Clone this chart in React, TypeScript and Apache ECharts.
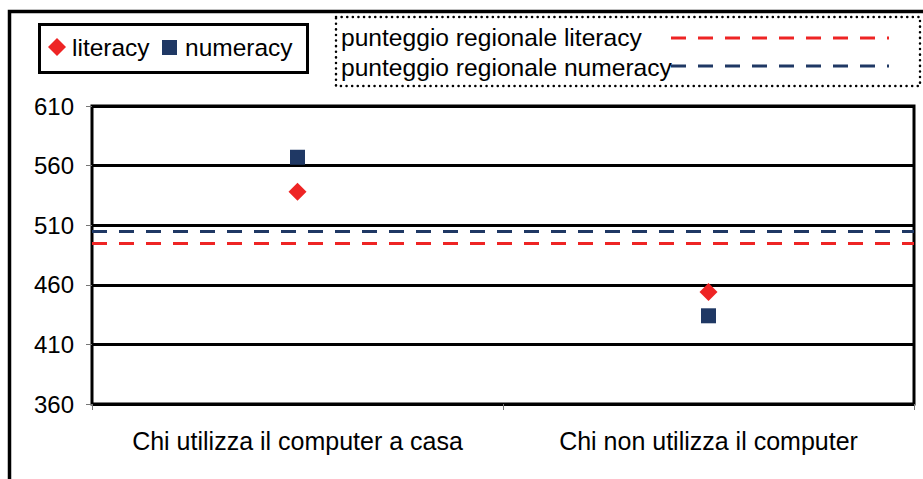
import React, { useEffect, useRef } from "react";
import * as echarts from "echarts";

const categories = ["Chi utilizza il computer a casa", "Chi non utilizza il computer"];
const literacy = [538, 454];
const numeracy = [567, 434];
const regionalLiteracy = 495;
const regionalNumeracy = 505;
const yTicks = [360, 410, 460, 510, 560, 610];

const RED = "#ee2424";
const NAVY = "#1f3864";
const FONT = "Liberation Sans";

export default function App() {
  const ref = useRef<HTMLDivElement>(null);
  useEffect(() => {
    document.body.style.margin = "0";
    const chart = echarts.init(ref.current!, null, { renderer: "svg" });
    const option = {
      animation: false,
      backgroundColor: "#ffffff",
      textStyle: { fontFamily: FONT },
      grid: {
        left: 92,
        top: 106,
        right: 9,
        bottom: 75,
        show: true,
        borderColor: "#000",
        borderWidth: 3,
        containLabel: false,
      },
      xAxis: {
        type: "category",
        data: categories,
        boundaryGap: true,
        axisLine: { show: false },
        axisTick: { show: true, length: 6, lineStyle: { color: "#777", width: 1 } },
        axisLabel: { color: "#000", fontSize: 25, fontFamily: FONT, margin: 24, interval: 0 },
        splitLine: { show: false },
      },
      yAxis: {
        type: "value",
        min: yTicks[0],
        max: yTicks[yTicks.length - 1],
        interval: yTicks[1] - yTicks[0],
        axisLine: { show: false },
        axisTick: { show: true, length: 6, lineStyle: { color: "#777", width: 1 } },
        axisLabel: { color: "#000", fontSize: 24, fontFamily: FONT, margin: 18 },
        splitLine: { show: true, lineStyle: { color: "#000", width: 3 } },
      },
      series: [
        {
          name: "literacy",
          type: "scatter",
          data: literacy,
          symbol: "diamond",
          symbolSize: 18,
          itemStyle: { color: RED, opacity: 1 },
          z: 5,
          markLine: {
            silent: true,
            symbol: "none",
            label: { show: false },
            lineStyle: { color: RED, width: 3, type: [15, 12], opacity: 1 },
            data: [{ yAxis: regionalLiteracy }],
          },
        },
        {
          name: "numeracy",
          type: "scatter",
          data: numeracy,
          symbol: "rect",
          symbolSize: 15,
          itemStyle: { color: NAVY, opacity: 1 },
          z: 5,
          markLine: {
            silent: true,
            symbol: "none",
            label: { show: false },
            lineStyle: { color: NAVY, width: 3, type: [15, 12], opacity: 1 },
            data: [{ yAxis: regionalNumeracy }],
          },
        },
      ],
      graphic: [
        {
          type: "rect",
          shape: { x: 9.5, y: 11.5, width: 1000, height: 1000 },
          style: { fill: "none", stroke: "#000", lineWidth: 3.5 },
          silent: true,
        },
        {
          type: "rect",
          shape: { x: 39.5, y: 24.5, width: 268, height: 48 },
          style: { fill: "#fff", stroke: "#000", lineWidth: 3 },
        },
        {
          type: "polygon",
          shape: { points: [[57, 38], [66, 47], [57, 56], [48, 47]] },
          style: { fill: RED },
        },
        {
          type: "text",
          x: 72,
          y: 47,
          style: { text: "literacy", font: `24.5px "${FONT}"`, fill: "#000", textVerticalAlign: "middle" },
        },
        {
          type: "rect",
          shape: { x: 162, y: 40, width: 15, height: 15 },
          style: { fill: NAVY },
        },
        {
          type: "text",
          x: 185,
          y: 47,
          style: { text: "numeracy", font: `24.5px "${FONT}"`, fill: "#000", textVerticalAlign: "middle" },
        },
        {
          type: "rect",
          shape: { x: 336, y: 17, width: 584, height: 69 },
          style: { fill: "#fff", stroke: "#000", lineWidth: 2.5, lineDash: [0.1, 5.5], lineCap: "round" },
        },
        {
          type: "text",
          x: 341,
          y: 37,
          style: { text: "punteggio regionale literacy", font: `24.6px "${FONT}"`, fill: "#000", textVerticalAlign: "middle" },
        },
        {
          type: "line",
          shape: { x1: 671, y1: 38, x2: 889, y2: 38 },
          style: { stroke: RED, lineWidth: 3, lineDash: [15, 12] },
        },
        {
          type: "text",
          x: 341,
          y: 67,
          style: { text: "punteggio regionale numeracy", font: `24.6px "${FONT}"`, fill: "#000", textVerticalAlign: "middle" },
        },
        {
          type: "line",
          shape: { x1: 671, y1: 66, x2: 889, y2: 66 },
          style: { stroke: NAVY, lineWidth: 3, lineDash: [15, 12] },
        },
      ],
    };
    chart.setOption(option as any);
    return () => chart.dispose();
  }, []);
  return <div ref={ref} style={{ width: 923, height: 479 }} />;
}
